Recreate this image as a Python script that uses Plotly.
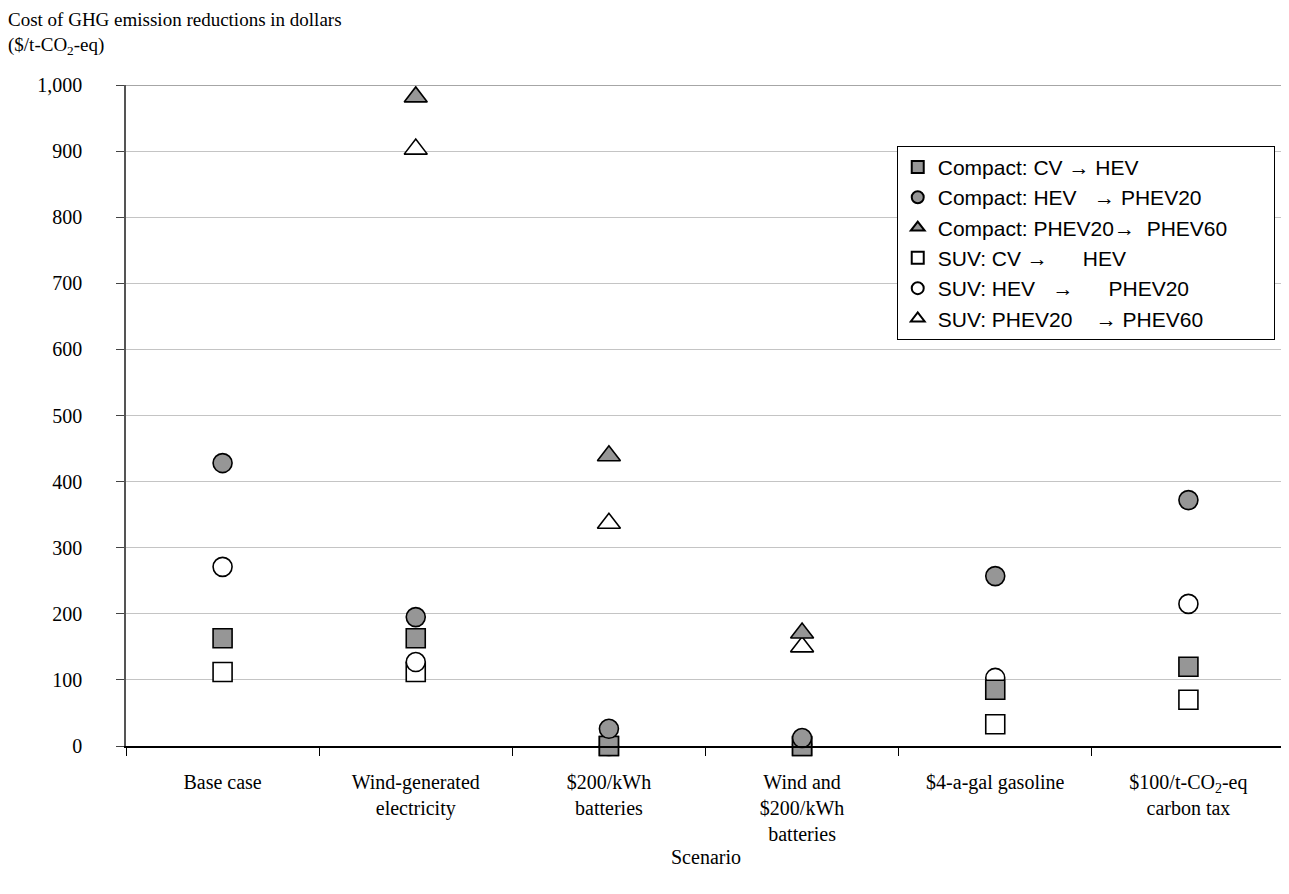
import plotly.graph_objects as go

NB = "\u00a0"

scenarios = ["Base case", "Wind-generated<br>electricity", "$200/kWh<br>batteries",
             "Wind and<br>$200/kWh<br>batteries", "$4-a-gal gasoline",
             "$100/t-CO<sub>2</sub>-eq<br>carbon tax"]

compact_cv_hev = [163, 163, 0, 0, 85, 120]
compact_hev_phev20 = [428, 195, 26, 12, 257, 372]
compact_phev20_phev60 = [None, 982, 439, 171, None, None]
suv_cv_hev = [112, 112, 0, 0, 33, 70]
suv_hev_phev20 = [271, 127, 0, 2, 103, 215]
suv_phev20_phev60 = [None, 903, 337, 150, None, None]

series_names = [
    "Compact: CV \u2192 HEV",
    "Compact: HEV" + NB * 3 + "\u2192 PHEV20",
    "Compact: PHEV20\u2192" + NB * 2 + "PHEV60" + NB * 7,
    "SUV: CV \u2192 " + NB * 5 + "HEV",
    "SUV: HEV" + NB * 3 + "\u2192" + NB * 6 + "PHEV20",
    "SUV: PHEV20" + NB * 4 + "\u2192 PHEV60",
]

series = [
    (series_names[3], suv_cv_hev, "square", "white", 4),
    (series_names[4], suv_hev_phev20, "circle", "white", 5),
    (series_names[5], suv_phev20_phev60, "triangle-up", "white", 6),
    (series_names[0], compact_cv_hev, "square", "#969696", 1),
    (series_names[1], compact_hev_phev20, "circle", "#969696", 2),
    (series_names[2], compact_phev20_phev60, "triangle-up", "#969696", 3),
]

fig = go.Figure()
for name, vals, sym, col, rank in series:
    fig.add_trace(go.Scatter(
        x=scenarios, y=vals, mode="markers", name=name, legendrank=rank,
        cliponaxis=False,
        marker=dict(symbol=sym, size=19 if sym != "triangle-up" else 20, color=col,
                    line=dict(color="black", width=1.6)),
    ))

fig.update_layout(
    width=1281, height=886,
    margin=dict(l=118, r=4, t=77, b=148),
    paper_bgcolor="white", plot_bgcolor="white",
    font=dict(family="Liberation Serif", size=20, color="black"),
    showlegend=True,
    legend=dict(x=0.665, y=0.908, xanchor="left", yanchor="top",
                bgcolor="white", bordercolor="black", borderwidth=1,
                font=dict(family="Liberation Sans", size=21, color="black"),
                tracegroupgap=0, itemsizing="constant", itemwidth=30),
    xaxis=dict(type="category", tickson="boundaries", ticks="outside", ticklen=8,
               tickcolor="black", showline=True, linecolor="black", linewidth=1.5,
               showgrid=False, tickfont=dict(size=20), range=[-0.5, 5.5],
               ticklabelstandoff=17),
    yaxis=dict(range=[0, 1000], tickvals=list(range(0, 1001, 100)), tickformat=",d",
               ticks="outside", ticklen=8, tickcolor="#444", showline=True,
               linecolor="#555", linewidth=1.5, showgrid=True, gridcolor="#c4c4c4",
               gridwidth=1, zeroline=False, tickfont=dict(size=20),
               ticklabelstandoff=30),
)

fig.add_shape(type="line", xref="paper", yref="y", x0=0, x1=1, y0=1000, y1=1000,
              line=dict(color="#888", width=1.5))

fig.add_annotation(xref="paper", yref="paper", x=0, y=1, xanchor="left", yanchor="bottom",
                   xshift=-120, yshift=25, align="left", showarrow=False,
                   text="Cost of GHG emission reductions in dollars<br>($/t-CO<sub>2</sub>-eq)",
                   font=dict(family="Liberation Serif", size=19, color="black"))

fig.add_annotation(xref="paper", yref="paper", x=0.5, y=0, xanchor="center", yanchor="middle",
                   yshift=-111, showarrow=False, text="Scenario",
                   font=dict(family="Liberation Serif", size=20, color="black"))

fig.write_html("out.html")
